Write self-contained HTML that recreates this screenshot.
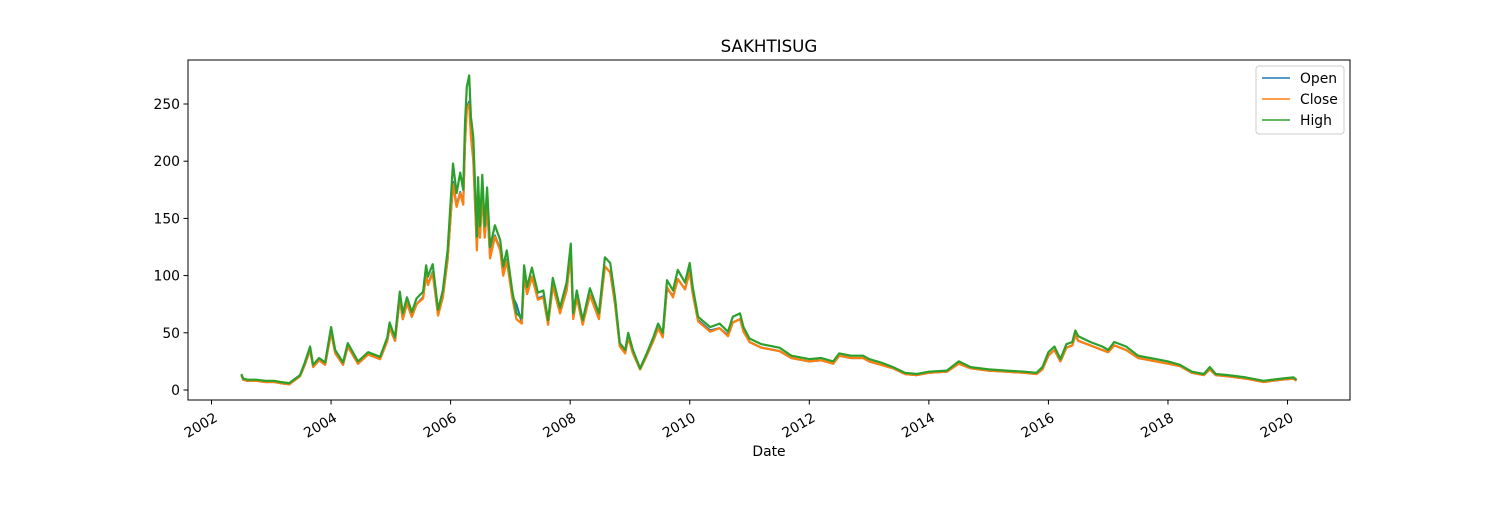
<!DOCTYPE html>
<html><head><meta charset="utf-8"><style>
body{margin:0;background:#fff;}
svg text{font-family:"DejaVu Sans","Liberation Sans",sans-serif;fill:#000;}
</style></head><body>
<svg id="chart" width="1500" height="500" xmlns="http://www.w3.org/2000/svg">
<rect width="1500" height="500" fill="#fff"/>
<text x="769" y="52" font-size="16.7" text-anchor="middle">SAKHTISUG</text>
<g id="series"></g>
<rect x="188" y="60" width="1162" height="340" fill="none" stroke="#000" stroke-width="1"/>
<g id="axes"></g>
<text x="769" y="456" font-size="13.9" text-anchor="middle">Date</text>
<g>
<rect x="1256" y="66" width="88" height="68" rx="3" fill="#fff" stroke="#ccc" stroke-width="1"/>
<line x1="1262" y1="78" x2="1290" y2="78" stroke="#1f77b4" stroke-width="1.5"/>
<text x="1300" y="83" font-size="13.9">Open</text>
<line x1="1262" y1="99" x2="1290" y2="99" stroke="#ff7f0e" stroke-width="1.5"/>
<text x="1300" y="104" font-size="13.9">Close</text>
<line x1="1262" y1="120" x2="1290" y2="120" stroke="#2ca02c" stroke-width="1.5"/>
<text x="1300" y="125" font-size="13.9">High</text>
</g>
</svg>
<script>
const dates=[2002.50,2002.53,2002.6,2002.75,2002.9,2003.05,2003.15,2003.3,
2003.48,2003.56,2003.65,2003.7,2003.8,2003.9,
2004.0,2004.07,2004.2,2004.28,2004.45,2004.62,2004.82,2004.94,2004.98,
2005.07,2005.15,2005.2,2005.27,2005.35,2005.43,2005.54,2005.59,2005.62,2005.7,2005.79,2005.87,2005.95,
2006.04,2006.1,2006.16,2006.21,2006.24,2006.27,2006.31,2006.34,2006.38,2006.44,2006.46,2006.49,2006.53,2006.57,2006.61,2006.66,2006.74,2006.83,2006.88,2006.94,
2007.03,2007.1,2007.19,2007.23,2007.28,2007.36,2007.46,2007.55,2007.63,2007.71,2007.83,2007.94,
2008.01,2008.05,2008.11,2008.21,2008.33,2008.48,2008.58,2008.67,2008.75,2008.83,2008.92,2008.97,
2009.05,2009.17,2009.28,2009.39,2009.47,2009.55,2009.62,2009.72,2009.8,2009.92,
2010.0,2010.05,2010.14,2010.34,2010.5,2010.64,2010.72,2010.84,2010.9,
2011.0,2011.2,2011.5,2011.7,
2012.0,2012.2,2012.4,2012.5,2012.7,2012.9,
2013.0,2013.2,2013.4,2013.6,2013.8,
2014.0,2014.3,2014.5,2014.7,
2015.0,2015.3,2015.6,2015.8,2015.9,
2016.0,2016.1,2016.2,2016.3,2016.4,2016.45,2016.5,2016.7,2016.9,
2017.0,2017.1,2017.3,2017.5,2017.8,
2018.0,2018.2,2018.4,2018.6,2018.7,2018.8,
2019.0,2019.3,2019.6,2019.9,
2020.1,2020.15];
const openVals=[13,9,8,8,7,7,6,5,
12,22,35,21,26,22,
51,33,22,38,23,31,27,43,55,
43,80,62,76,64,75,81,101,92,103,66,81,114,
182,161,173,163,217,247,252,223,203,124,171,134,173,134,163,116,135,123,101,114,
82,75,59,100,84,99,80,82,58,91,68,87,
119,63,81,58,83,63,108,103,76,39,33,46,
33,18,30,43,54,47,89,82,97,88,104,85,61,52,54,48,59,62,52,
42,37,34,28,
25,26,23,30,28,28,
25,22,19,14,13,
15,16,23,19,
17,16,15,14,18,
30,35,25,37,39,48,43,39,35,
33,39,35,28,25,
23,21,15,13,18,13,
12,10,7,9,
10,8];
const closeVals=[13,9,8,8,7,7,6,5,
12,22,35,20,26,22,
50,32,22,38,23,31,27,43,55,
43,80,62,76,64,75,80,101,92,102,65,81,114,
180,160,172,162,215,245,250,222,200,122,170,133,172,133,162,115,134,122,100,113,
81,62,58,100,84,99,79,81,57,91,67,87,
118,62,81,57,83,62,108,103,75,38,32,46,
32,18,30,43,54,46,90,81,97,88,103,84,60,51,54,47,59,62,51,
42,37,34,28,
25,26,23,30,28,28,
25,22,19,14,13,
15,16,23,19,
17,16,15,14,18,
30,35,25,37,39,48,43,39,35,
33,39,35,28,25,
23,21,15,13,18,13,
12,10,7,9,
10,8];
const highVals=[14,10,9,9,8,8,7,6,
13,24,38,22,28,24,
55,35,24,41,25,33,29,46,59,
46,86,67,81,68,80,86,109,99,110,70,87,122,
198,172,190,175,233,265,275,239,221,134,186,143,188,143,177,125,144,131,108,122,
87,67,63,109,90,107,85,87,61,98,72,94,
128,67,87,61,89,67,116,111,81,41,35,50,
35,19,32,46,58,50,96,87,105,94,
111,90,64,55,58,51,64,67,55,
45,40,37,30,
27,28,25,32,30,30,
27,24,20,15,14,
16,17,25,20,
18,17,16,15,20,
33,38,27,40,42,52,47,42,38,
35,42,38,30,27,
25,22,16,14,20,14,
13,11,8,10,
11,9];
const yTicks=[0,50,100,150,200,250];
const xTicks=[2002,2004,2006,2008,2010,2012,2014,2016,2018,2020];

const NS='http://www.w3.org/2000/svg';
function xs(d){return 211.5+(d-2002)*59.78;}
function ys(v){return 390-v*1.144;}
const sg=document.getElementById('series');
function drawLine(vals,color,name){
  const p=document.createElementNS(NS,'polyline');
  p.setAttribute('points',dates.map((d,i)=>xs(d).toFixed(1)+','+ys(vals[i]).toFixed(1)).join(' '));
  p.setAttribute('fill','none');p.setAttribute('stroke',color);p.setAttribute('stroke-width','2.2');
  p.setAttribute('stroke-linejoin','round');
  
  
  sg.appendChild(p);
}
drawLine(openVals,'#1f77b4','open-line');
drawLine(closeVals,'#ff7f0e','close-line');
drawLine(highVals,'#2ca02c','high-line');
const ag=document.getElementById('axes');
yTicks.forEach(v=>{
  const l=document.createElementNS(NS,'line');
  l.setAttribute('x1',183.5);l.setAttribute('x2',188);l.setAttribute('y1',ys(v));l.setAttribute('y2',ys(v));l.setAttribute('stroke','#000');
  
  
  ag.appendChild(l);
  const t=document.createElementNS(NS,'text');
  t.setAttribute('x',180);t.setAttribute('y',ys(v)+5);t.setAttribute('font-size','13.9');t.setAttribute('text-anchor','end');
  t.textContent=v;
  
  
  ag.appendChild(t);
});
xTicks.forEach(d=>{
  const x=xs(d);
  const l=document.createElementNS(NS,'line');
  l.setAttribute('x1',x);l.setAttribute('x2',x);l.setAttribute('y1',400);l.setAttribute('y2',404.5);l.setAttribute('stroke','#000');
  
  
  ag.appendChild(l);
  const t=document.createElementNS(NS,'text');
  t.setAttribute('transform','translate('+(x+2)+',412) rotate(-30)');
  t.setAttribute('font-size','13.9');t.setAttribute('text-anchor','end');t.setAttribute('dy','0.7em');
  t.textContent=d;
  
  
  ag.appendChild(t);
});
</script>
</body></html>
